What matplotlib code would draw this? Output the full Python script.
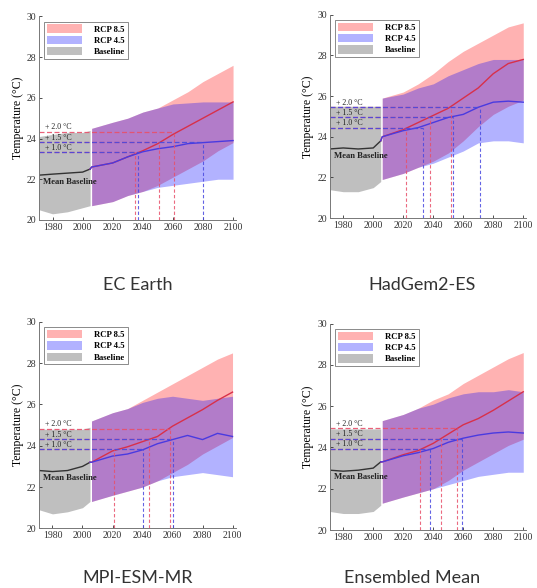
import numpy as np
import matplotlib.pyplot as plt

BASE_YEARS = [1971, 1980, 1990, 2000, 2005]
FUT_YEARS = [2006, 2020, 2030, 2040, 2050, 2060, 2070, 2080, 2090, 2100]
STEPS = [1.0, 1.5, 2.0]
STEP_LABELS = ["+ 1.0 °C", "+ 1.5 °C", "+ 2.0 °C"]
TITLES = ["EC Earth", "HadGem2-ES", "MPI-ESM-MR", "Ensembled Mean"]

# ---- EC Earth ----
EC_LEVEL = 22.33
EC_BASE_MEAN = [22.2, 22.25, 22.3, 22.35, 22.5]
EC_BASE_LO = [20.5, 20.3, 20.4, 20.6, 20.7]
EC_BASE_HI = [24.1, 24.2, 24.3, 24.3, 24.4]
EC_R85_MEAN = [22.6, 22.8, 23.1, 23.4, 23.75, 24.2, 24.6, 25.0, 25.4, 25.8]
EC_R85_LO = [20.7, 20.9, 21.2, 21.4, 21.7, 22.1, 22.5, 22.9, 23.4, 23.8]
EC_R85_HI = [24.5, 24.8, 25.0, 25.3, 25.5, 25.9, 26.3, 26.8, 27.2, 27.6]
EC_R45_MEAN = [22.6, 22.8, 23.1, 23.35, 23.5, 23.6, 23.75, 23.8, 23.85, 23.9]
EC_R45_LO = [20.7, 20.9, 21.2, 21.4, 21.6, 21.7, 21.8, 21.9, 22.0, 22.0]
EC_R45_HI = [24.5, 24.8, 25.0, 25.3, 25.5, 25.7, 25.75, 25.8, 25.8, 25.8]
EC_CROSS85 = [2035, 2051, 2061]
EC_CROSS45 = [2037, 2080, None]

# ---- HadGem2-ES ----
HG_LEVEL = 23.45
HG_BASE_MEAN = [23.4, 23.45, 23.4, 23.45, 23.8]
HG_BASE_LO = [21.4, 21.3, 21.3, 21.5, 21.8]
HG_BASE_HI = [25.5, 25.5, 25.5, 25.5, 25.5]
HG_R85_MEAN = [24.0, 24.35, 24.7, 25.05, 25.4, 25.9, 26.4, 27.1, 27.6, 27.8]
HG_R85_LO = [21.9, 22.2, 22.5, 22.8, 23.2, 23.8, 24.5, 25.1, 25.5, 25.8]
HG_R85_HI = [25.9, 26.2, 26.6, 27.1, 27.7, 28.2, 28.6, 29.0, 29.4, 29.6]
HG_R45_MEAN = [24.0, 24.3, 24.45, 24.7, 24.95, 25.1, 25.45, 25.7, 25.75, 25.7]
HG_R45_LO = [21.9, 22.2, 22.5, 22.7, 23.0, 23.3, 23.7, 23.8, 23.8, 23.7]
HG_R45_HI = [25.9, 26.1, 26.4, 26.6, 27.0, 27.3, 27.6, 27.8, 27.8, 27.8]
HG_CROSS85 = [2022, 2038, 2052]
HG_CROSS45 = [2033, 2053, 2071]

# ---- MPI-ESM-MR ----
MPI_LEVEL = 22.83
MPI_BASE_MEAN = [22.8, 22.75, 22.8, 23.0, 23.2]
MPI_BASE_LO = [20.9, 20.7, 20.8, 21.0, 21.3]
MPI_BASE_HI = [24.8, 24.8, 24.8, 24.8, 24.9]
MPI_R85_MEAN = [23.2, 23.75, 23.95, 24.2, 24.45, 24.95, 25.35, 25.75, 26.2, 26.6]
MPI_R85_LO = [21.3, 21.6, 21.8, 22.0, 22.3, 22.7, 23.1, 23.6, 24.0, 24.4]
MPI_R85_HI = [25.2, 25.6, 25.8, 26.2, 26.6, 27.0, 27.4, 27.8, 28.2, 28.5]
MPI_R45_MEAN = [23.2, 23.5, 23.6, 23.8, 24.1, 24.3, 24.5, 24.3, 24.6, 24.45]
MPI_R45_LO = [21.3, 21.6, 21.8, 22.0, 22.3, 22.5, 22.6, 22.7, 22.6, 22.5]
MPI_R45_HI = [25.2, 25.6, 25.8, 26.1, 26.3, 26.4, 26.3, 26.2, 26.3, 26.4]
MPI_CROSS85 = [2021, 2044, 2058]
MPI_CROSS45 = [2040, 2060, None]

# ---- Ensembled Mean ----
ENS_LEVEL = 22.93
ENS_BASE_MEAN = [22.9, 22.85, 22.9, 23.0, 23.3]
ENS_BASE_LO = [20.9, 20.8, 20.8, 20.9, 21.2]
ENS_BASE_HI = [24.9, 24.9, 24.9, 24.9, 24.9]
ENS_R85_MEAN = [23.3, 23.65, 23.85, 24.2, 24.65, 25.1, 25.4, 25.8, 26.25, 26.7]
ENS_R85_LO = [21.3, 21.6, 21.8, 22.0, 22.4, 22.9, 23.3, 23.7, 24.1, 24.4]
ENS_R85_HI = [25.3, 25.6, 25.9, 26.3, 26.6, 27.1, 27.5, 27.9, 28.3, 28.6]
ENS_R45_MEAN = [23.3, 23.6, 23.75, 23.95, 24.25, 24.45, 24.6, 24.7, 24.75, 24.7]
ENS_R45_LO = [21.3, 21.6, 21.8, 22.0, 22.2, 22.4, 22.6, 22.7, 22.8, 22.8]
ENS_R45_HI = [25.3, 25.6, 25.9, 26.1, 26.4, 26.6, 26.7, 26.7, 26.8, 26.7]
ENS_CROSS85 = [2031, 2045, 2056]
ENS_CROSS45 = [2038, 2059, None]

panels = [
    (EC_LEVEL, EC_BASE_MEAN, EC_BASE_LO, EC_BASE_HI, EC_R85_MEAN, EC_R85_LO, EC_R85_HI,
     EC_R45_MEAN, EC_R45_LO, EC_R45_HI, EC_CROSS85, EC_CROSS45),
    (HG_LEVEL, HG_BASE_MEAN, HG_BASE_LO, HG_BASE_HI, HG_R85_MEAN, HG_R85_LO, HG_R85_HI,
     HG_R45_MEAN, HG_R45_LO, HG_R45_HI, HG_CROSS85, HG_CROSS45),
    (MPI_LEVEL, MPI_BASE_MEAN, MPI_BASE_LO, MPI_BASE_HI, MPI_R85_MEAN, MPI_R85_LO, MPI_R85_HI,
     MPI_R45_MEAN, MPI_R45_LO, MPI_R45_HI, MPI_CROSS85, MPI_CROSS45),
    (ENS_LEVEL, ENS_BASE_MEAN, ENS_BASE_LO, ENS_BASE_HI, ENS_R85_MEAN, ENS_R85_LO, ENS_R85_HI,
     ENS_R45_MEAN, ENS_R45_LO, ENS_R45_HI, ENS_CROSS85, ENS_CROSS45),
]

SERIF = "Liberation Serif"
RED_LINE = "#d8304a"
BLUE_LINE = "#4a3ae0"
RED_DASH = "#e8506a"
BLUE_DASH = "#4848e0"
XMIN, XMAX = 1971, 2102

fig = plt.figure(figsize=(5.37, 5.88), dpi=100)
boxes = [
    [0.0726, 0.626, 0.367, 0.346],
    [0.614, 0.629, 0.366, 0.346],
    [0.0726, 0.1015, 0.366, 0.351],
    [0.614, 0.0986, 0.366, 0.351],
]
title_pos = [(0.257, 0.516), (0.786, 0.516), (0.257, 0.017), (0.767, 0.017)]

for k, p in enumerate(panels):
    (level, b_mean, b_lo, b_hi, r85_mean, r85_lo, r85_hi,
     r45_mean, r45_lo, r45_hi, cross85, cross45) = p
    ax = fig.add_axes(boxes[k])

    ax.fill_between(BASE_YEARS, b_lo, b_hi, color="#bfbfbf", lw=0, label="Baseline")
    ax.fill_between(FUT_YEARS, r85_lo, r85_hi, color="red", alpha=0.3, lw=0, label="RCP 8.5")
    ax.fill_between(FUT_YEARS, r45_lo, r45_hi, color="blue", alpha=0.3, lw=0, label="RCP 4.5")

    ax.plot(BASE_YEARS, b_mean, color="#333333", lw=1.0)
    ax.plot([BASE_YEARS[-1]] + FUT_YEARS, [b_mean[-1]] + r85_mean, color=RED_LINE, lw=1.0)
    ax.plot([BASE_YEARS[-1]] + FUT_YEARS, [b_mean[-1]] + r45_mean, color=BLUE_LINE, lw=1.0)

    # threshold lines
    for i, s in enumerate(STEPS):
        t = level + s
        for yr, col in [(cross85[i], RED_DASH), (cross45[i], BLUE_DASH)]:
            if yr is None:
                continue
            ax.plot([XMIN, yr], [t, t], color=col, lw=0.9, ls=(0, (4, 2)), alpha=0.9)
            ax.plot([yr, yr], [20, t], color=col, lw=0.8, ls=(0, (3, 2)), alpha=0.85)
        ax.text(1975, t + 0.02, STEP_LABELS[i], fontsize=5.7, family=SERIF,
                va="bottom", ha="left", color="#222222")
    ax.text(1974, b_mean[0] - 0.15, "Mean Baseline", fontsize=6.2, family=SERIF,
            va="top", ha="left", color="#222222", fontweight="bold")

    ax.set_xlim(XMIN, XMAX)
    ax.set_ylim(20, 30)
    ax.set_xticks(range(1980, 2101, 20))
    ax.set_yticks(range(20, 31, 2))
    for lab in ax.get_xticklabels() + ax.get_yticklabels():
        lab.set_family(SERIF)
        lab.set_fontsize(7)
    ax.tick_params(direction="in", length=2, width=0.6, pad=2, colors="#333333")
    ax.spines["top"].set_visible(False)
    ax.spines["right"].set_visible(False)
    for sp in ["left", "bottom"]:
        ax.spines[sp].set_color("#777777")
        ax.spines[sp].set_linewidth(0.7)
    ax.set_ylabel("Temperature (°C)", family=SERIF, fontsize=8.5, labelpad=2)

    h, l = ax.get_legend_handles_labels()
    order = [l.index("RCP 8.5"), l.index("RCP 4.5"), l.index("Baseline")]
    leg = ax.legend([h[j] for j in order], [l[j] for j in order], loc="upper left",
                    prop={"family": SERIF, "size": 6.3, "weight": "bold"},
                    handlelength=4.0, handleheight=1.1, labelspacing=0.25,
                    borderpad=0.3, handletextpad=1.4, fancybox=False,
                    borderaxespad=0.6)
    leg.get_frame().set_edgecolor("#555555")
    leg.get_frame().set_linewidth(0.6)

    fig.text(title_pos[k][0], title_pos[k][1], TITLES[k], ha="center", va="center",
             fontsize=13, family="Lato", color="#333333")

fig.savefig("out.png", dpi=100)
